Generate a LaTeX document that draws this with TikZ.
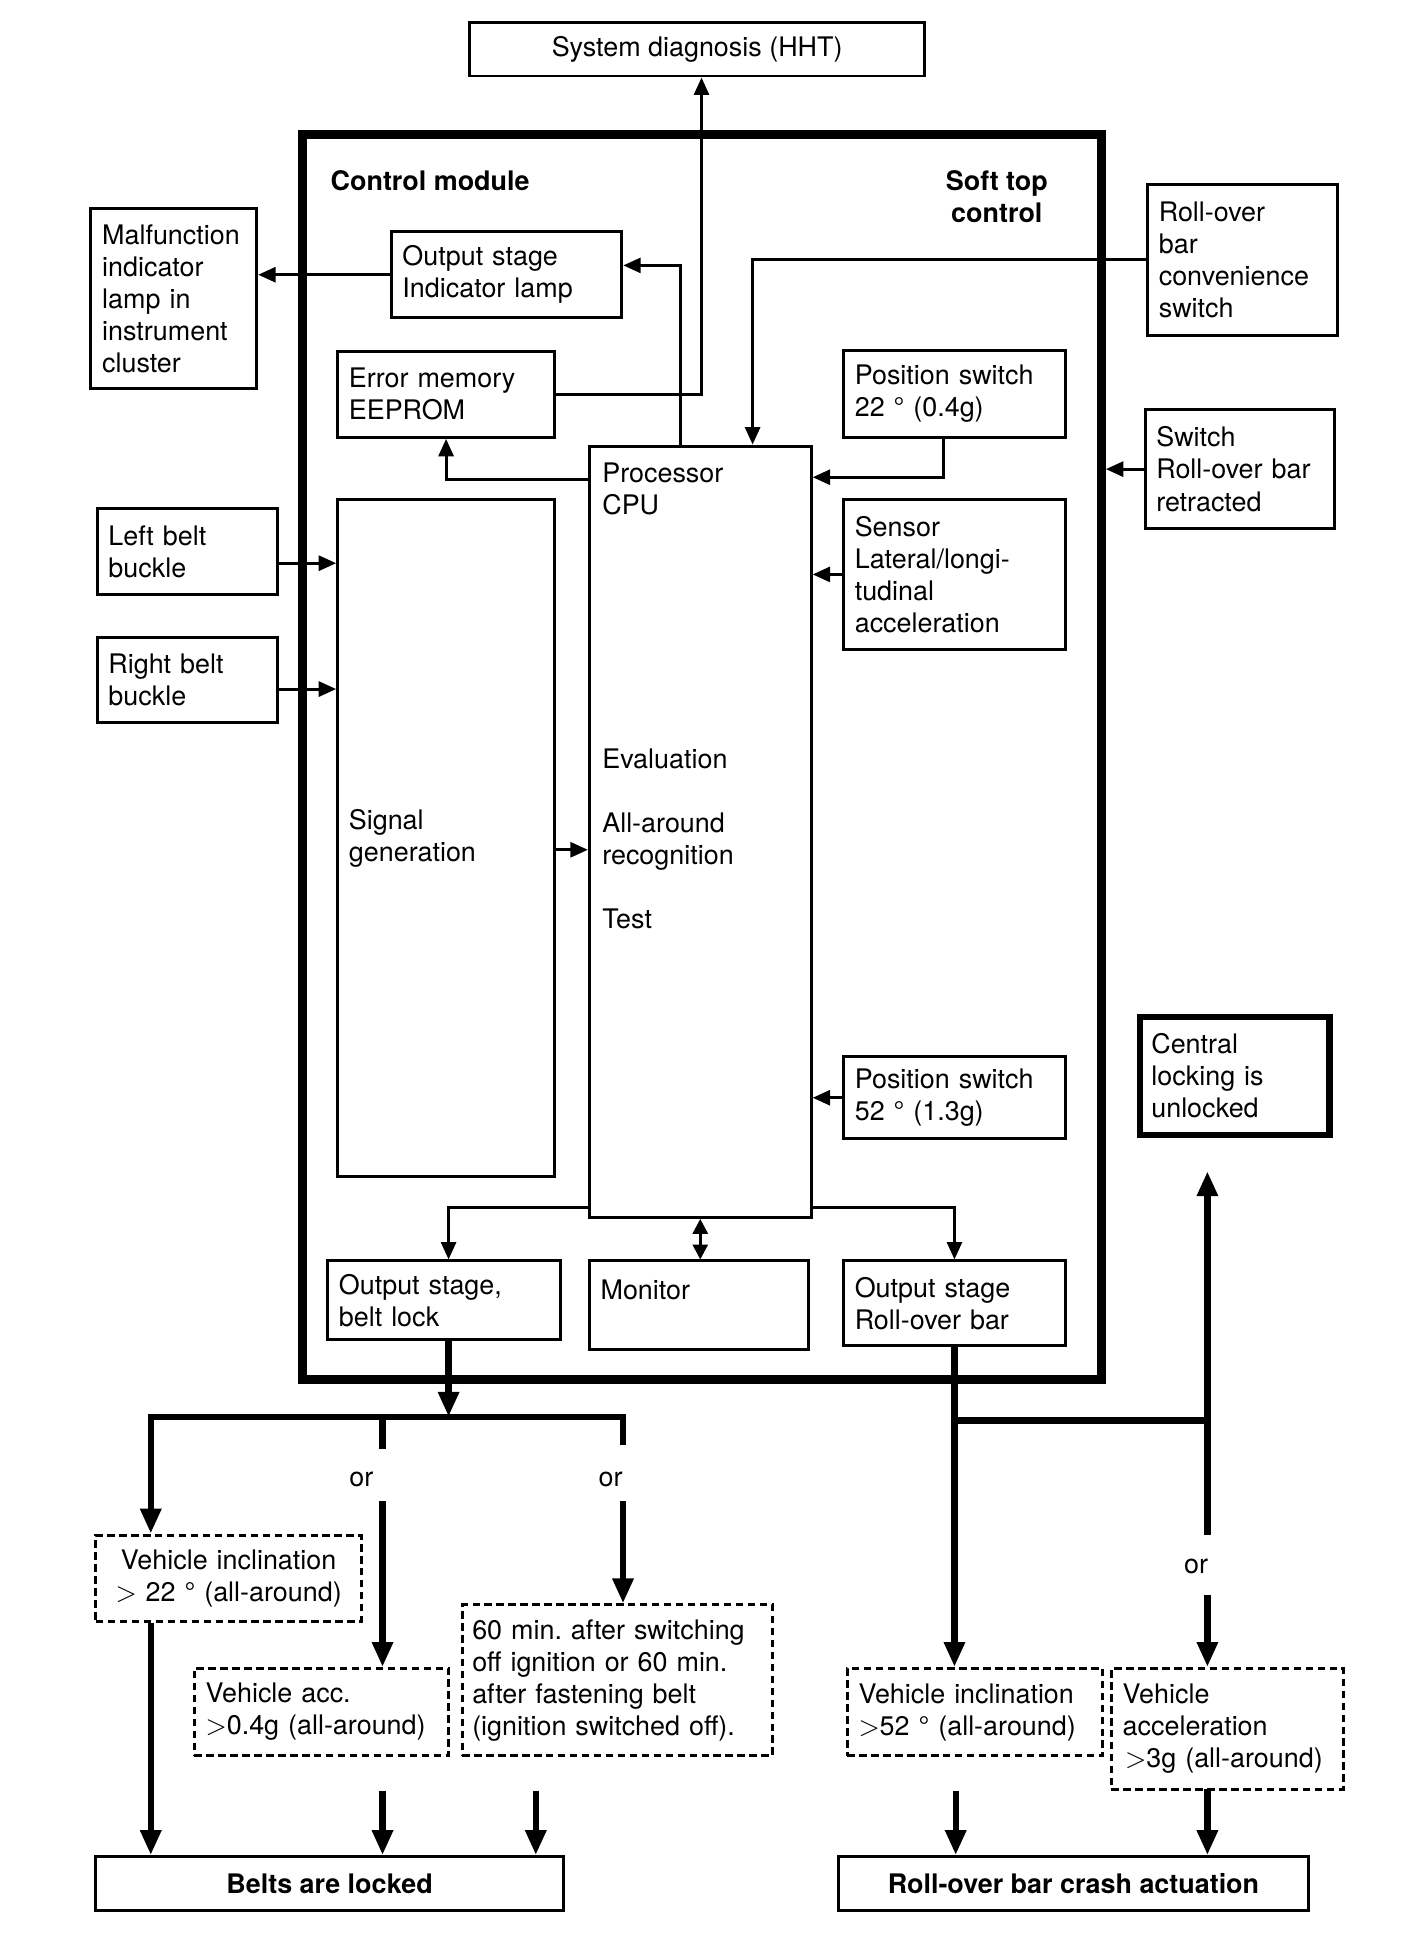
\documentclass[tikz,border=0pt]{standalone}
\usepackage{fontspec}
\setmainfont{TeX Gyre Heros}
\usetikzlibrary{arrows.meta}
\newcommand\fs{\fontsize{10.8}{12.85}\selectfont\frenchspacing}
\newcommand\gtr{\ensuremath{>}}
\begin{document}
\begin{tikzpicture}[x=0.5pt,y=-0.5pt,
  box/.style={draw, line width=1.2pt, inner xsep=4.5pt, inner ysep=0pt, align=left, font=\fs},
  dbox/.style={box, dash pattern=on 3pt off 1.8pt},
  cbox/.style={draw, line width=1.2pt, inner sep=0pt, align=center, font=\fs},
  lbl/.style={inner sep=0pt, align=left, font=\fs},
  tarr/.style={line width=1.2pt, -{Triangle[length=7pt,width=6pt]}},
  darr/.style={line width=1.2pt, {Triangle[length=6pt,width=6pt]}-{Triangle[length=6pt,width=6pt]}},
  karr/.style={line width=2.5pt, -{Triangle[length=10pt,width=8pt]}},
  kline/.style={line width=2.5pt}]
\useasboundingbox (0,0) rectangle (1130,1573);

% top
\node[cbox, minimum width=182.5pt, minimum height=21.5pt] (sys) at (559.5,39.5) {System diagnosis (HHT)};
\node[draw, line width=3.5pt, inner sep=0pt, minimum width=320.5pt, minimum height=499.5pt] (cm) at (563.5,607.5) {};
\node[lbl, font=\fs\bfseries, anchor=west] (cmt) at (265,145) {Control module};
\node[lbl, font=\fs\bfseries, align=center] (stc) at (800,157.5) {Soft top\\control};

% boxes
\node[box, text width=57.5pt, minimum height=72.5pt] (mil) at (139.5,239.5) {Malfunction\\indicator\\lamp in\\instrument\\cluster};
\node[box, text width=83.5pt, minimum height=34.5pt] (ois) at (406.5,220.5) {Output stage\\Indicator lamp};
\node[box, text width=78pt, minimum height=34.5pt] (em) at (358,316.5) {Error memory\\EEPROM};
\node[box, text width=80pt, minimum height=35pt] (ps22) at (766,316) {Position switch\\22 ° (0.4g)};
\node[box, text width=67pt, minimum height=60.5pt] (rcs) at (997,208.5) {Roll-over\\bar\\convenience\\switch};
\node[box, text width=67pt, minimum height=47.5pt] (srr) at (995,376.5) {Switch\\Roll-over bar\\retracted};
\node[box, minimum width=89pt, minimum height=309.5pt] (cpu) at (562,667.5) {};
\node[lbl, anchor=west] (cput) at (483,392.5) {Processor\\CPU};
\node[lbl, anchor=west] (cpuf) at (483,673) {Evaluation\\[12.85pt]All-around\\recognition\\[12.85pt]Test};
\node[box, text width=78pt, minimum height=271.5pt] (sig) at (358,672.5) {Signal\\generation};
\node[box, text width=80pt, minimum height=60pt] (sen) at (766,461) {Sensor\\Lateral/longi-\\tudinal\\acceleration};
\node[box, text width=63.5pt, minimum height=34.5pt] (lbb) at (150.5,442.5) {Left belt\\buckle};
\node[box, text width=63.5pt, minimum height=34pt] (rbb) at (150.5,546) {Right belt\\buckle};
\node[box, text width=80pt, minimum height=33pt] (ps52) at (766,881) {Position switch\\52 ° (1.3g)};
\node[box, line width=2.5pt, text width=67pt, minimum height=47.5pt] (cl) at (991,863.5) {Central\\locking is\\unlocked};
\node[box, text width=84.5pt, minimum height=31.5pt] (osb) at (356.5,1043.5) {Output stage,\\belt lock};
\node[box, text width=79pt, minimum height=35.5pt] (mon) at (561,1047.5) {Monitor\\\mbox{}};
\node[box, text width=80pt, minimum height=34pt] (osr) at (766,1046) {Output stage\\Roll-over bar};

% lower boxes
\node[dbox, align=center, text width=97.5pt, minimum height=34.5pt] (vi22) at (183.5,1266.5) {Vehicle inclination\\\gtr{} 22 ° (all-around)};
\node[dbox, text width=93pt, minimum height=35pt] (va) at (258,1374) {Vehicle acc.\\\gtr0.4g (all-around)};
\node[dbox, inner xsep=4pt, text width=116.5pt, minimum height=60.5pt] (m60) at (495.5,1348.5) {60 min. after switching\\off ignition or 60 min.\\after fastening belt\\(ignition switched off).};
\node[dbox, text width=93.5pt, minimum height=35pt] (vi52) at (782.5,1374) {Vehicle inclination\\\gtr52 ° (all-around)};
\node[dbox, text width=84pt, minimum height=48.5pt] (vac) at (985,1387.5) {Vehicle\\acceleration\\\hspace{1pt}\gtr3g (all-around)};
\node[cbox, font=\fs\bfseries, minimum width=187.5pt, minimum height=21.5pt] (bl) at (264.5,1511.5) {Belts are locked};
\node[cbox, font=\fs\bfseries, minimum width=188.5pt, minimum height=21.5pt] (rbc) at (861.5,1511.5) {Roll-over bar crash actuation};

\node[lbl] (or1) at (290,1187) {or};
\node[lbl] (or2) at (490,1187) {or};
\node[lbl] (or3) at (960,1257) {or};

% thin connectors
\draw[tarr] (em.east) -| ([xshift=1.75pt]sys.south);
\draw[tarr] ([xshift=-8pt]cpu.north) |- ([yshift=3.75pt]ois.east);
\draw[tarr] (ois.west) -- (ois.west -| mil.east);
\draw[tarr] (rcs.west) -| ([xshift=21pt]cpu.north);
\draw[tarr] ([xshift=-4.5pt]ps22.south) |- (cpu.east |- 0,383);
\draw[tarr] (cpu.west |- 0,385) -| (em.south);
\draw[tarr] (srr.west) -- (srr.west -| cm.east);
\draw[tarr] (sen.west) -- (sen.west -| cpu.east);
\draw[tarr] (lbb.east |- 0,452) -- (sig.west |- 0,452);
\draw[tarr] (rbb.east |- 0,553) -- (sig.west |- 0,553);
\draw[tarr] (sig.east |- 0,682) -- (cpu.west |- 0,682);
\draw[tarr] (ps52.west) -- (ps52.west -| cpu.east);
\draw[tarr] (cpu.west |- 0,969) -| ([xshift=1.75pt]osb.north);
\draw[tarr] (cpu.east |- 0,969) -| (osr.north);
\draw[darr] (cpu.south) -- (cpu.south |- mon.north);

% thick flow left
\coordinate (bj) at (360,1137);
\coordinate (b1) at (121,1137);
\coordinate (b2) at (307,1137);
\coordinate (b2e) at (307,1163);
\coordinate (b3) at (500,1137);
\coordinate (b3e) at (500,1160);
\coordinate (o1) at (307,1205);
\coordinate (o2) at (500,1205);
\coordinate (s1) at (307,1437);
\coordinate (s2) at (430,1437);
\draw[karr] ([xshift=1.75pt]osb.south) -- (bj);
\draw[karr] (b3e) -- (b3) -- (b1) -- (b1 |- vi22.north);
\draw[kline] (b2) -- (b2e);
\draw[karr] (o1) -- (o1 |- va.north);
\draw[karr] (o2) -- (o2 |- m60.north);
\draw[karr] (b1 |- vi22.south) -- (b1 |- bl.north);
\draw[karr] (s1) -- (s1 |- bl.north);
\draw[karr] (s2) -- (s2 |- bl.north);

% thick flow right
\coordinate (rj) at (766,1140);
\coordinate (rk) at (969,1140);
\coordinate (rlow) at (969,1232);
\coordinate (cltip) at (969,940);
\coordinate (o3) at (969,1280);
\coordinate (s3) at (767,1437);
\coordinate (s4) at (969,1436);
\draw[karr] (osr.south) -- (osr.south |- vi52.north);
\draw[kline] (rj) -- (rk);
\draw[karr] (rlow) -- (cltip);
\draw[karr] (o3) -- (o3 |- vac.north);
\draw[karr] (s3) -- (s3 |- rbc.north);
\draw[karr] (s4) -- (s4 |- rbc.north);
\end{tikzpicture}
\end{document}
